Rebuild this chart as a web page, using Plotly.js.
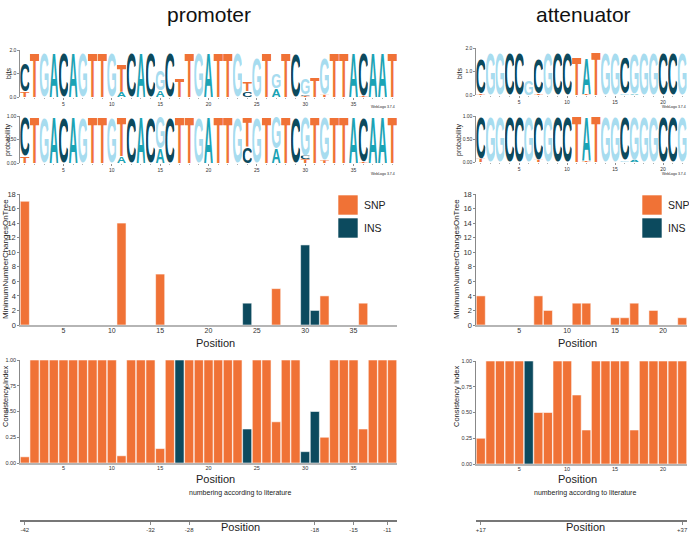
<!DOCTYPE html>
<html>
<head>
<meta charset="utf-8">
<script src="https://cdn.plot.ly/plotly-3.0.1.min.js"></script>
<style>
  html, body { margin: 0; padding: 0; background: #fff; }
  #chart { width: 689px; height: 534px; }
</style>
</head>
<body>
<div id="chart"></div>
<script>
// ---------- data: promoter ----------
const promoterSeq = 'CTGACAGTTGTCACGCTTGATTGTGTGTCGTGTTACAAT'.split('');
const promoterTopBits = [1.2, 1.93, 1.93, 1.93, 1.93, 1.93, 1.93, 1.93, 1.93, 1.93,
                         1.2, 1.93, 1.93, 1.93, 0.85, 1.93, 0.78, 1.93, 1.93, 1.93,
                         1.93, 1.93, 1.9, 0.4, 1.7, 1.93, 0.65, 1.93, 1.85, 0.72,
                         0.85, 1.6, 1.93, 1.93, 1.93, 1.88, 1.93, 1.93, 1.93];
const promoterTopProb = [0.85, 1, 1, 1, 1, 1, 1, 1, 1, 1,
                         0.85, 1, 1, 1, 0.7, 1, 1, 1, 1, 1,
                         1, 1, 1, 0.65, 1, 1, 0.7, 1, 1, 0.84,
                         1, 0.94, 1, 1, 1, 0.97, 1, 1, 1];
const promoterMinorPos  = [1, 11, 15, 24, 27, 30, 30, 32, 36];
const promoterMinorBase = ['T', 'A', 'A', 'C', 'A', 'T', 'C', 'T', 'T'];
const promoterMinorBits = [0.22, 0.22, 0.3, 0.25, 0.36, 0.05, 0.06, 0.1, 0.04];
const promoterMinorProb = [0.15, 0.15, 0.3, 0.35, 0.3, 0.08, 0.08, 0.06, 0.03];

const promoterSnpPos   = [1, 11, 15, 27, 32, 36];
const promoterSnpCount = [17, 14, 7, 5, 4, 3];
const promoterInsPos   = [24, 30, 31];
const promoterInsCount = [3, 11, 2];

const promoterCI = [0.06, 1, 1, 1, 1, 1, 1, 1, 1, 1,
                    0.07, 1, 1, 1, 0.14, 1, 1, 1, 1, 1,
                    1, 1, 1, 0.33, 1, 1, 0.4, 1, 1, 0.11,
                    0.5, 0.25, 1, 1, 1, 0.33, 1, 1, 1];
const promoterCIType = ['SNP', 'SNP', 'SNP', 'SNP', 'SNP', 'SNP', 'SNP', 'SNP', 'SNP', 'SNP',
                        'SNP', 'SNP', 'SNP', 'SNP', 'SNP', 'SNP', 'INS', 'SNP', 'SNP', 'SNP',
                        'SNP', 'SNP', 'SNP', 'INS', 'SNP', 'SNP', 'SNP', 'SNP', 'SNP', 'INS',
                        'INS', 'SNP', 'SNP', 'SNP', 'SNP', 'SNP', 'SNP', 'SNP', 'SNP'];

const promoterLitPos    = [1, 14, 18, 31, 35, 38.5];
const promoterLitLabels = ['-42', '-32', '-28', '-18', '-15', '-11'];

// ---------- data: attenuator ----------
const attenSeq = 'CGGCCGCGCCTATGGCGGGCCG'.split('');
const attenTopBits = [1.5, 1.82, 1.82, 1.82, 1.82, 0.62, 1.5, 1.82, 1.82, 1.82,
                      1.62, 1.52, 1.85, 1.82, 1.82, 1.55, 1.72, 1.82, 1.82, 1.82,
                      1.82, 1.82];
const attenTopProb = [0.93, 1, 1, 1, 1, 1, 0.95, 1, 1, 1,
                      1, 0.97, 1, 1, 1, 0.96, 0.95, 1, 1, 1,
                      1, 1];
const attenMinorPos  = [1, 7, 12, 16, 17];
const attenMinorBase = ['T', 'T', 'T', 'G', 'A'];
const attenMinorBits = [0.06, 0.04, 0.04, 0.04, 0.05];
const attenMinorProb = [0.07, 0.05, 0.03, 0.04, 0.05];

const attenSnpPos   = [1, 7, 8, 11, 12, 15, 16, 17, 19, 22];
const attenSnpCount = [4, 4, 2, 3, 3, 1, 1, 3, 2, 1];
const attenInsPos   = [];
const attenInsCount = [];

const attenCI = [0.25, 1, 1, 1, 1, 1, 0.5, 0.5, 1, 1,
                 0.67, 0.33, 1, 1, 1, 1, 0.33, 1, 1, 1,
                 1, 1];
const attenCIType = ['SNP', 'SNP', 'SNP', 'SNP', 'SNP', 'INS', 'SNP', 'SNP', 'SNP', 'SNP',
                     'SNP', 'SNP', 'SNP', 'SNP', 'SNP', 'SNP', 'SNP', 'SNP', 'SNP', 'SNP',
                     'SNP', 'SNP'];

const attenLitPos    = [1, 22];
const attenLitLabels = ['+17', '+37'];

// ---------- styling ----------
const W = 689, H = 534;
const FONT = 'Liberation Sans, Arial, sans-serif';
const SNP_COLOR = '#F07236';
const INS_COLOR = '#0C4A5E';
const baseColor = { A: '#1BA3B5', C: '#0C4A5E', G: '#A7DCEF', T: '#F07236' };
// tight glyph boxes (font-size 100, bold) so the letter fills the image
const glyphBox = {
  A: [0, -71.6, 72.2, 71.6],
  C: [4.2, -72.8, 62.8, 74.0],
  G: [4.3, -72.8, 68.9, 74.0],
  T: [2.2, -71.6, 56.7, 71.6]
};

const px = v => v / W;
const py = v => 1 - v / H;

const glyphSrc = {};
Object.keys(glyphBox).forEach(b => {
  const box = glyphBox[b];
  const svg = '<svg xmlns="http://www.w3.org/2000/svg" width="' + box[2] + '" height="' + box[3] +
    '" viewBox="' + box.join(' ') + '" preserveAspectRatio="none">' +
    '<text x="0" y="0" font-family="Liberation Sans, Arial, sans-serif" font-weight="bold" font-size="100" fill="' +
    baseColor[b] + '">' + b + '</text></svg>';
  glyphSrc[b] = 'data:image/svg+xml;base64,' + btoa(svg);
});

function letterImage(base, pos, y0, h, xref, yref) {
  return {
    source: glyphSrc[base], xref: xref, yref: yref,
    x: pos - 0.48, y: y0 + h, sizex: 0.96, sizey: h,
    xanchor: 'left', yanchor: 'top', sizing: 'stretch', layer: 'above'
  };
}

// stack minor letters at the bottom, consensus letter on top
function logoImages(seq, topVals, minorPos, minorBase, minorVals, xref, yref) {
  const imgs = [];
  seq.forEach((base, i) => {
    const pos = i + 1;
    let y0 = 0;
    minorPos.forEach((p, k) => {
      if (p !== pos) return;
      imgs.push(letterImage(minorBase[k], pos, y0, minorVals[k], xref, yref));
      y0 += minorVals[k];
    });
    imgs.push(letterImage(base, pos, y0, topVals[i], xref, yref));
  });
  return imgs;
}

const positions = n => Array.from({ length: n }, (_, i) => i + 1);

// ---------- panels ----------
const panels = [
  { n: 39, xd: [px(20), px(397)], ax: 1, seq: promoterSeq, topBits: promoterTopBits, topProb: promoterTopProb,
    mPos: promoterMinorPos, mBase: promoterMinorBase, mBits: promoterMinorBits, mProb: promoterMinorProb,
    snpPos: promoterSnpPos, snpCount: promoterSnpCount, insPos: promoterInsPos, insCount: promoterInsCount,
    ci: promoterCI, ciType: promoterCIType, litPos: promoterLitPos, litLabels: promoterLitLabels,
    bits: [50, 97], prob: [116, 163], mc: [194, 325], cix: [360, 463] },
  { n: 22, xd: [px(476), px(687)], ax: 6, seq: attenSeq, topBits: attenTopBits, topProb: attenTopProb,
    mPos: attenMinorPos, mBase: attenMinorBase, mBits: attenMinorBits, mProb: attenMinorProb,
    snpPos: attenSnpPos, snpCount: attenSnpCount, insPos: attenInsPos, insCount: attenInsCount,
    ci: attenCI, ciType: attenCIType, litPos: attenLitPos, litLabels: attenLitLabels,
    bits: [48, 95], prob: [116, 162], mc: [194, 325], cix: [361, 464] }
];

const data = [];
const layout = {
  width: W, height: H,
  margin: { l: 0, r: 0, t: 0, b: 0 },
  paper_bgcolor: '#fff', plot_bgcolor: 'rgba(0,0,0,0)',
  font: { family: FONT, color: '#333' },
  showlegend: false,
  barmode: 'overlay',
  images: [], annotations: [], shapes: []
};

const id = k => (k === 1 ? '' : String(k));

panels.forEach(p => {
  const pos = positions(p.n);
  const k = p.ax;
  const xr = [0.5, p.n + 0.5];

  // logo axes
  const logoX = {
    domain: p.xd, range: xr, showgrid: false, zeroline: false, showline: false,
    tick0: 5, dtick: 5, ticks: 'outside', ticklen: 2, tickwidth: 0.6, tickcolor: '#444',
    minor: { dtick: 1, ticks: 'outside', ticklen: 1, tickcolor: '#777' },
    tickfont: { size: 5, color: '#333' }, fixedrange: true
  };
  const logoY = {
    showgrid: false, zeroline: false, showline: true, linecolor: '#444', linewidth: 0.6,
    ticks: 'outside', ticklen: 2, tickwidth: 0.6, tickcolor: '#444',
    tickfont: { size: 5, color: '#333' }, fixedrange: true
  };
  layout['xaxis' + id(k)] = Object.assign({}, logoX, { anchor: 'y' + id(k) });
  layout['yaxis' + id(k)] = Object.assign({}, logoY, {
    anchor: 'x' + id(k), domain: [py(p.bits[1]), py(p.bits[0])], range: [0, 2],
    tickvals: [0, 1, 2], ticktext: ['0.0', '1.0', '2.0']
  });
  layout['xaxis' + id(k + 1)] = Object.assign({}, logoX, { anchor: 'y' + id(k + 1) });
  layout['yaxis' + id(k + 1)] = Object.assign({}, logoY, {
    anchor: 'x' + id(k + 1), domain: [py(p.prob[1]), py(p.prob[0])], range: [0, 1],
    tickvals: [0, 0.5, 1], ticktext: ['0.00', '0.50', '1.00']
  });

  [k, k + 1].forEach(a => data.push({
    type: 'scatter', x: pos, y: pos.map(() => 0), mode: 'markers',
    marker: { opacity: 0 }, hoverinfo: 'skip',
    xaxis: 'x' + id(a), yaxis: 'y' + id(a)
  }));

  layout.images = layout.images
    .concat(logoImages(p.seq, p.topBits, p.mPos, p.mBase, p.mBits, 'x' + id(k), 'y' + id(k)))
    .concat(logoImages(p.seq, p.topProb, p.mPos, p.mBase, p.mProb, 'x' + id(k + 1), 'y' + id(k + 1)));

  // bar chart axes
  const barX = {
    domain: p.xd, range: xr, showgrid: false, zeroline: false,
    showline: true, linecolor: '#b5b5b5', linewidth: 2,
    tick0: 5, dtick: 5, ticks: '', fixedrange: true
  };
  const barY = {
    showgrid: false, zeroline: false, showline: true, linecolor: '#555', linewidth: 0.7,
    ticks: 'outside', ticklen: 2, tickwidth: 0.7, tickcolor: '#555',
    tickfont: { size: 7.5, color: '#333' }, fixedrange: true
  };
  layout['xaxis' + id(k + 2)] = Object.assign({}, barX, {
    anchor: 'y' + id(k + 2), tickfont: { size: 7, color: '#333' }, ticklabelstandoff: -2
  });
  layout['yaxis' + id(k + 2)] = Object.assign({}, barY, {
    anchor: 'x' + id(k + 2), domain: [py(p.mc[1]), py(p.mc[0])], range: [0, 18], dtick: 2
  });
  layout['xaxis' + id(k + 3)] = Object.assign({}, barX, {
    anchor: 'y' + id(k + 3), tickfont: { size: 5.5, color: '#333' }, ticklabelstandoff: -2
  });
  layout['yaxis' + id(k + 3)] = Object.assign({}, barY, {
    anchor: 'x' + id(k + 3), domain: [py(p.cix[1]), py(p.cix[0])], range: [0, 1],
    tickvals: [0, 0.25, 0.5, 0.75, 1], ticktext: ['0.00', '0.25', '0.50', '0.75', '1.00'],
    tickfont: { size: 5.5, color: '#333' }
  });

  const barLine = { color: 'rgba(255,255,255,0.55)', width: 1 };
  data.push({
    type: 'bar', name: 'SNP', x: p.snpPos, y: p.snpCount, width: 0.94,
    marker: { color: SNP_COLOR, line: barLine },
    xaxis: 'x' + id(k + 2), yaxis: 'y' + id(k + 2)
  });
  data.push({
    type: 'bar', name: 'INS', x: p.insPos, y: p.insCount, width: 0.94,
    marker: { color: INS_COLOR, line: barLine },
    xaxis: 'x' + id(k + 2), yaxis: 'y' + id(k + 2)
  });
  data.push({
    type: 'bar', name: 'CI', x: pos, y: p.ci, width: 0.94,
    marker: { color: p.ciType.map(t => (t === 'INS' ? INS_COLOR : SNP_COLOR)), line: barLine },
    xaxis: 'x' + id(k + 3), yaxis: 'y' + id(k + 3)
  });

  // literature numbering axis
  layout['xaxis' + id(k + 4)] = {
    domain: p.xd, range: xr, anchor: 'y' + id(k + 4), showgrid: false, zeroline: false,
    showline: true, linecolor: '#777', linewidth: 1.5,
    tickvals: p.litPos, ticktext: p.litLabels, ticks: 'outside', ticklen: 3, tickwidth: 0.7, tickcolor: '#555',
    tickfont: { size: 6, color: '#333' }, fixedrange: true
  };
  layout['yaxis' + id(k + 4)] = {
    domain: [py(520), py(518)], range: [0, 1], visible: false, anchor: 'x' + id(k + 4), fixedrange: true
  };
  data.push({
    type: 'scatter', x: p.litPos, y: p.litPos.map(() => 0.5), mode: 'markers',
    marker: { opacity: 0 }, hoverinfo: 'skip',
    xaxis: 'x' + id(k + 4), yaxis: 'y' + id(k + 4)
  });
});

// ---------- text ----------
function txt(text, x, y, size, extra) {
  layout.annotations.push(Object.assign({
    text: text, x: px(x), y: py(y), xref: 'paper', yref: 'paper',
    showarrow: false, font: { size: size, color: '#222', family: FONT },
    xanchor: 'center', yanchor: 'middle'
  }, extra || {}));
}

txt('promoter', 209, 15, 21, { font: { size: 21, color: '#111', family: FONT } });
txt('attenuator', 583, 15, 21, { font: { size: 21, color: '#111', family: FONT } });

[[8, 215, 240], [459, 577, 585]].forEach(([yx, cx, bx]) => {
  txt('bits', yx, 74, 7, { textangle: -90 });
  txt('probability', yx, 140, 7, { textangle: -90 });
  txt('MinimumNumberChangesOnTree', yx - 3, 259, 8, { textangle: -90 });
  txt('Consistency Index', yx - 3, 396, 7.5, { textangle: -90 });
  txt('Position', cx, 343, 11);
  txt('Position', cx, 479, 11);
  txt('numbering according to literature', bx, 493, 7);
  txt('Position', bx, 527, 11);
});
txt('WebLogo 3.7.4', 397, 107, 3.5, { xanchor: 'right' });
txt('WebLogo 3.7.4', 397, 174, 3.5, { xanchor: 'right' });
txt('WebLogo 3.7.4', 688, 107, 3.5, { xanchor: 'right' });
txt('WebLogo 3.7.4', 688, 174, 3.5, { xanchor: 'right' });

// legends (SNP / INS squares)
[[338, 362], [642, 666]].forEach(([sx, tx]) => {
  [['SNP', SNP_COLOR, 195], ['INS', INS_COLOR, 218]].forEach(([name, col, top]) => {
    layout.shapes.push({
      type: 'rect', xref: 'paper', yref: 'paper',
      x0: px(sx), x1: px(sx + 20), y0: py(top + 20), y1: py(top),
      fillcolor: col, line: { color: 'rgba(255,255,255,0.6)', width: 1 }
    });
    txt(name, tx, top + 10, 10.5, { xanchor: 'left' });
  });
});

Plotly.newPlot('chart', data, layout, { staticPlot: true, displayModeBar: false });
</script>
</body>
</html>
